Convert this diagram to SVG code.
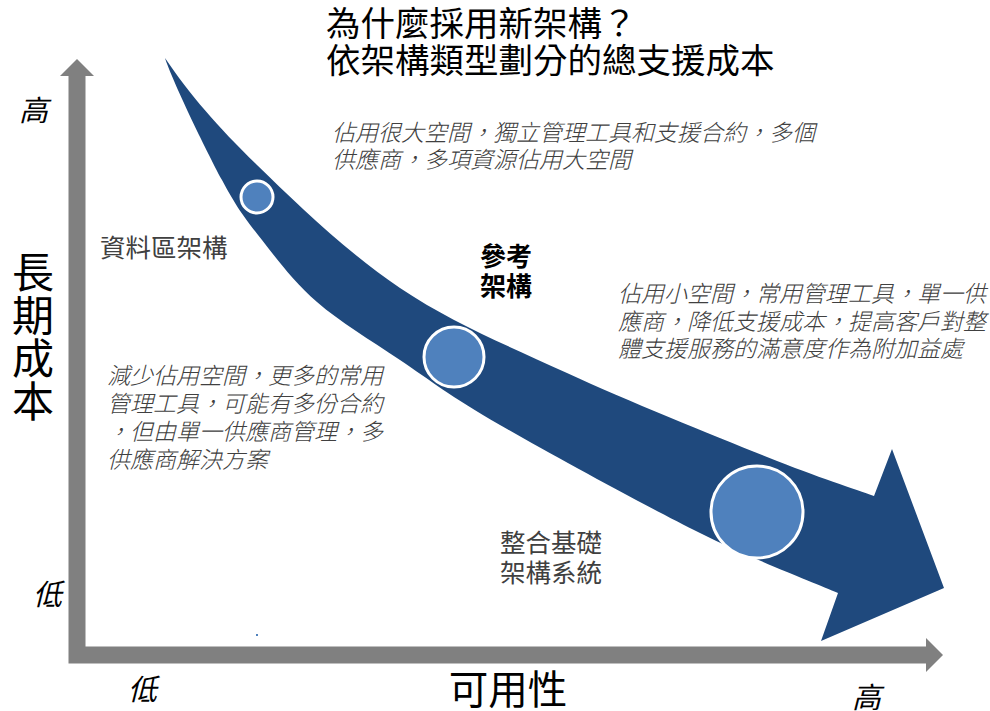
<svg xmlns="http://www.w3.org/2000/svg" width="990" height="711" viewBox="0 0 990 711">
<style>
.t{font-family:"Noto Sans CJK TC","Noto Sans CJK SC",sans-serif;}
.title{font-size:34.5px;fill:#000;}
.note{font-size:23px;fill:#404040;font-style:italic;font-weight:300;}
.lbl{font-size:25.5px;fill:#404040;}
.bold{font-size:26px;fill:#000;font-weight:bold;}
.axl{font-size:29px;fill:#000;font-style:italic;}
.axis{fill:#808080;}
.dot{fill:#4F81BD;stroke:#fff;stroke-width:3;}
</style>
<rect width="990" height="711" fill="#fff"/>
<g id="axes">
<polygon class="axis" points="68.5,663.5 68.5,76 60,76 77,59 94,76 85.5,76 85.5,646.5 926,646.5 926,638 943,655 926,672 926,663.5"/>
</g>
<g id="connectors">
<path fill="#1F497D" d="M165,58 C190,95 217.8,126.7 257,165 C296.2,203.3 348.3,253.3 400,288 C451.7,322.7 505.8,344.8 567,373 C628.2,401.2 715.8,436.5 767,457 C818.2,477.5 856.2,489.5 874,496 L892,449 L944,588 L821,641 L838,593 C815,583 756.3,561 700,533 C643.7,505 550,453.8 500,425 C450,396.2 430.5,380.5 400,360 C369.5,339.5 340,322 317,302 C294,282 277.8,260.3 262,240 C246.2,219.7 238.2,210.3 222,180 C205.8,149.7 172,80 165,58 Z"/>
</g>
<g id="node-small"><circle class="dot" cx="257" cy="197" r="16"/></g>
<g id="node-medium"><circle class="dot" cx="454" cy="357" r="30"/></g>
<g id="node-large"><circle class="dot" cx="757" cy="512" r="46"/></g>
<rect x="256" y="634" width="2" height="2" fill="#4F81BD"/>
<g id="title" class="t title">
<text x="326" y="36">為什麼採用新架構？</text>
<text x="326" y="73">依架構類型劃分的總支援成本</text>
</g>
<g id="note-top" class="t note">
<text x="332" y="141">佔用很大空間，獨立管理工具和支援合約，多個</text>
<text x="332" y="168">供應商，多項資源佔用大空間</text>
</g>
<g id="label-silo" class="t lbl"><text x="100" y="257">資料區架構</text></g>
<g id="label-ref" class="t bold">
<text x="480" y="266">參考</text>
<text x="480" y="296">架構</text>
</g>
<g id="note-right" class="t note">
<text x="618" y="302">佔用小空間，常用管理工具，單一供</text>
<text x="618" y="330">應商，降低支援成本，提高客戶對整</text>
<text x="618" y="357">體支援服務的滿意度作為附加益處</text>
</g>
<g id="note-left" class="t note">
<text x="107" y="384">減少佔用空間，更多的常用</text>
<text x="107" y="412">管理工具，可能有多份合約</text>
<text x="107" y="440">，但由單一供應商管理，多</text>
<text x="107" y="468">供應商解決方案</text>
</g>
<g id="label-integrated" class="t lbl">
<text x="500" y="552">整合基礎</text>
<text x="500" y="582">架構系統</text>
</g>
<g id="y-title" class="t"><text x="33" y="251" writing-mode="vertical-rl" font-size="42" letter-spacing="1" fill="#000">長期成本</text></g>
<g id="x-title" class="t"><text x="508" y="704" font-size="39.5" fill="#000" text-anchor="middle">可用性</text></g>
<g id="axis-labels" class="t axl">
<text x="19" y="121">高</text>
<text x="33" y="605">低</text>
<text x="128" y="700">低</text>
<text x="852" y="708">高</text>
</g>
</svg>
